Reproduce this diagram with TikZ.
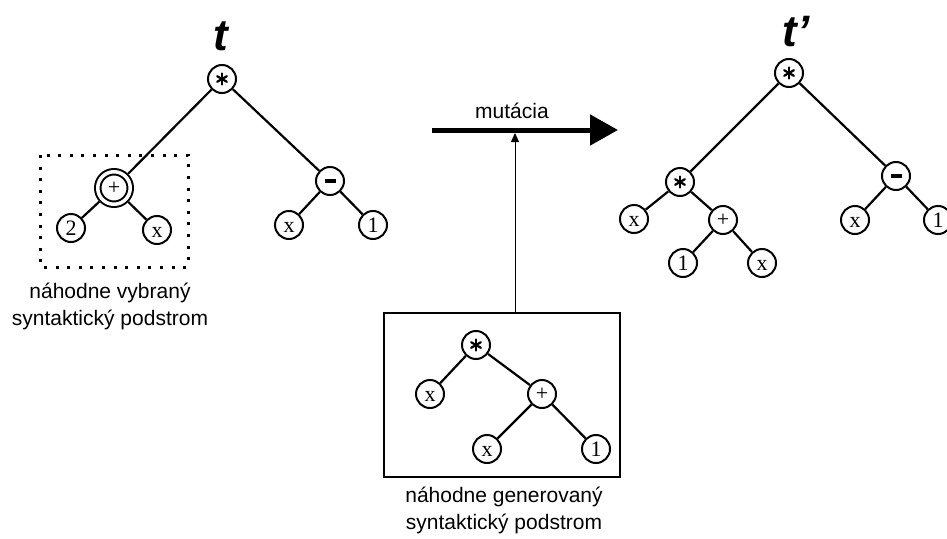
\documentclass[tikz,border=0pt]{standalone}
\usepackage{fontspec}
\setmainfont{Liberation Serif}
\newfontfamily\sansfam{Liberation Sans}
\usetikzlibrary{arrows.meta}
% operator glyphs used inside the tree nodes
\newcommand\opsub{\rule{11pt}{4.5pt}}
\newcommand\opadd{+}
\begin{document}
\begin{tikzpicture}[x=1pt,y=-1pt,
  tn/.style={circle,draw,line width=2pt,minimum size=28pt,inner sep=0pt,
    fill=white,font=\fontsize{22}{22}\selectfont},
  leaf/.style={tn,text height=14.6pt,text depth=0pt},
  opn/.style={tn},
  % six-spoke asterisk drawn as strokes
  mul/.style={tn,path picture={
      \foreach \ang in {30,90,...,330}
        \draw[line width=2.2pt,line cap=round]
          (path picture bounding box.center) -- ++(\ang:5.6pt);}},
  edge/.style={line width=2.2pt},
  capt/.style={font=\sansfam\fontsize{21}{27}\selectfont,align=center},
  ttl/.style={font=\sansfam\bfseries\itshape\fontsize{44}{44}\selectfont},
  dotbox/.style={line width=3pt,dash pattern=on 3pt off 8.6pt},
  thinbox/.style={line width=1.2pt}]
\useasboundingbox (0,0) rectangle (947,538);

% ---- original tree t ----
\node[ttl] (tlab) at (221,36) {t};
\draw[dotbox] (40,155) rectangle (188,267);
\node[mul] (a0) at (222,79) {};
\node[opn,minimum size=32.5pt,double,double distance=3.5pt,outer sep=3.75pt] (a1) at (114,188) {\opadd};
\node[leaf] (a2) at (71,228) {2};
\node[leaf] (a3) at (157,230) {x};
\node[opn] (a4) at (330,181) {\opsub};
\node[leaf] (a5) at (289,225) {x};
\node[leaf] (a6) at (373,225) {1};
\draw[edge] (a0) -- (a1);
\draw[edge] (a0) -- (a4);
\draw[edge] (a1) -- (a2);
\draw[edge] (a1) -- (a3);
\draw[edge] (a4) -- (a5);
\draw[edge] (a4) -- (a6);
\node[capt] (lcap) at (110,306) {náhodne vybraný\\syntaktický podstrom};

% ---- mutation arrow ----
\coordinate (mstart) at (432,130);
\coordinate (mend) at (618,130);
\draw[line width=5pt,-{Triangle[length=28pt,width=30pt]}] (mstart) -- (mend);
\node[font=\sansfam\fontsize{21}{21}\selectfont] (mlab) at (512,111) {mutácia};

% ---- generated subtree ----
\node[draw,thinbox,minimum width=236pt,minimum height=164pt,inner sep=0pt] (gbox) at (502,395) {};
\coordinate (gin) at (515,133);
\draw[line width=1pt,-{Triangle[length=9pt,width=8pt]}] (gbox.north -| gin) -- (gin);
\node[mul] (g0) at (476,345) {};
\node[leaf] (g1) at (430,394) {x};
\node[opn] (g2) at (542,394) {\opadd};
\node[leaf] (g3) at (487,449) {x};
\node[leaf] (g4) at (596,449) {1};
\draw[edge] (g0) -- (g1);
\draw[edge] (g0) -- (g2);
\draw[edge] (g2) -- (g3);
\draw[edge] (g2) -- (g4);
\node[capt] (gcap) at (504,510) {náhodne generovaný\\syntaktický podstrom};

% ---- resulting tree t' ----
\node[ttl] (tplab) at (796,32) {t’};
\node[mul] (b0) at (789,73) {};
\node[mul] (b1) at (680,182) {};
\node[leaf] (b2) at (634,219) {x};
\node[opn] (b3) at (723,220) {\opadd};
\node[leaf] (b4) at (683,263) {1};
\node[leaf] (b5) at (762,263) {x};
\node[opn] (b6) at (896,176) {\opsub};
\node[leaf] (b7) at (855,220) {x};
\node[leaf] (b8) at (938,220) {1};
\draw[edge] (b0) -- (b1);
\draw[edge] (b0) -- (b6);
\draw[edge] (b1) -- (b2);
\draw[edge] (b1) -- (b3);
\draw[edge] (b3) -- (b4);
\draw[edge] (b3) -- (b5);
\draw[edge] (b6) -- (b7);
\draw[edge] (b6) -- (b8);
\end{tikzpicture}
\end{document}
